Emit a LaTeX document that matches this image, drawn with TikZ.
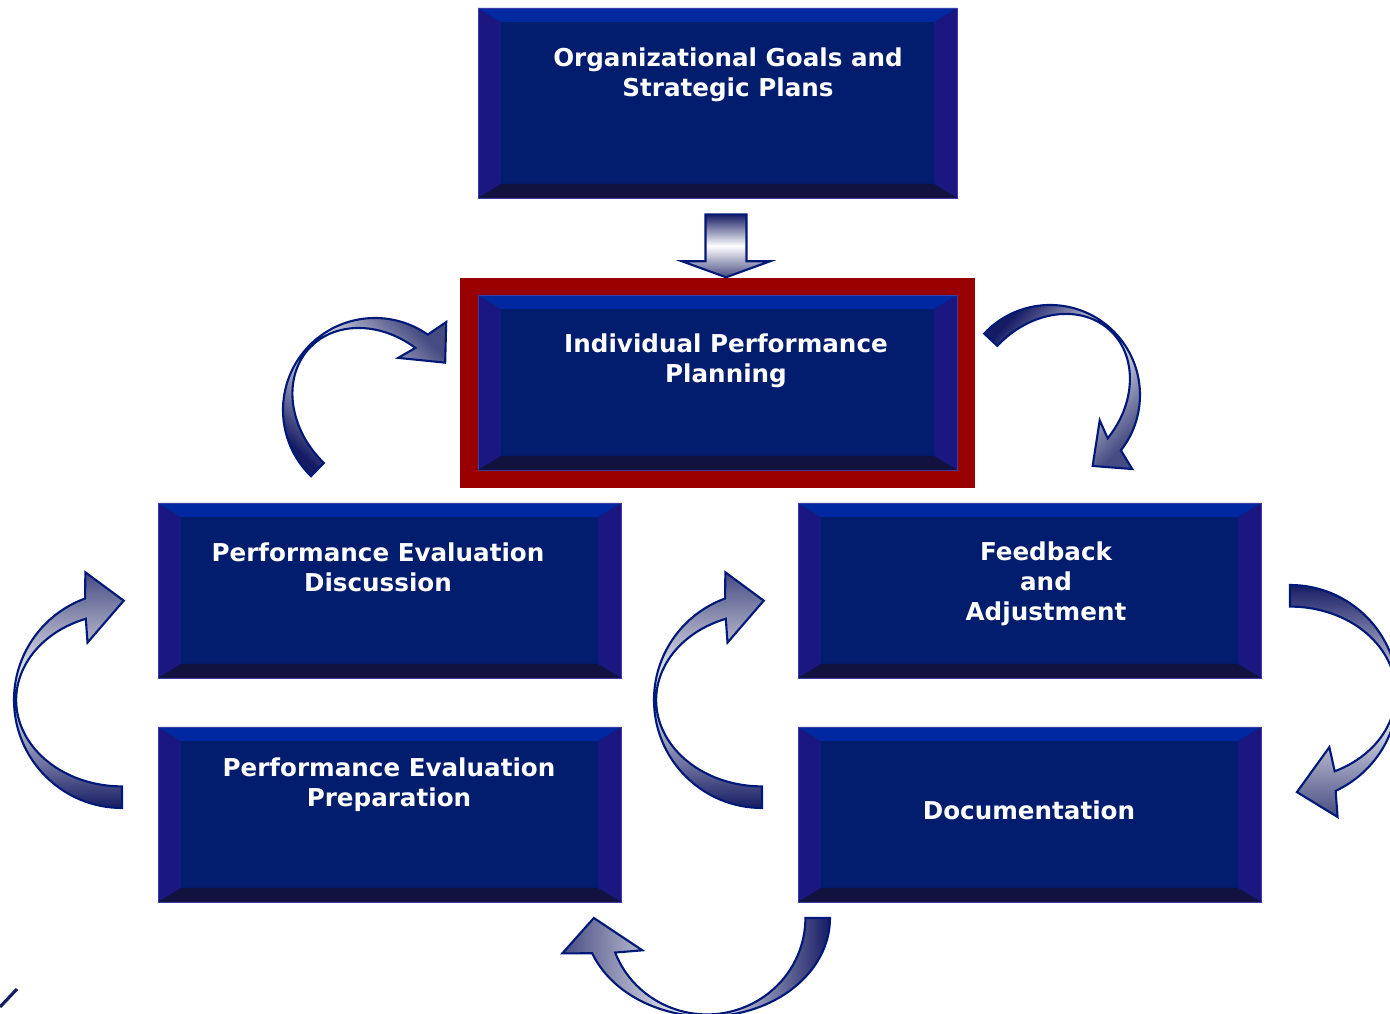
\documentclass[tikz,border=0pt]{standalone}
\usepackage{fontspec}
\newfontfamily\labelfont{DejaVu Sans}

\definecolor{boxface}{RGB}{2,28,110}
\definecolor{boxtop}{RGB}{0,40,160}
\definecolor{boxside}{RGB}{26,24,128}
\definecolor{boxbottom}{RGB}{18,18,62}
\definecolor{boxedge}{RGB}{60,60,165}
\definecolor{framered}{RGB}{153,0,0}
\definecolor{arrowline}{RGB}{0,25,120}
\definecolor{arrowtail}{RGB}{22,28,100}
\definecolor{arrowhead}{RGB}{70,76,130}

% bevelled edges of a box, drawn inside its path picture
\newcommand{\bevel}{%
  \coordinate (nw) at (path picture bounding box.north west);
  \coordinate (ne) at (path picture bounding box.north east);
  \coordinate (sw) at (path picture bounding box.south west);
  \coordinate (se) at (path picture bounding box.south east);
  \fill[boxside] (nw) -- ([shift={(.23,-.14)}]nw) -- ([shift={(.23,.14)}]sw) -- (sw) -- cycle;
  \fill[boxside] (ne) -- ([shift={(-.23,-.14)}]ne) -- ([shift={(-.23,.14)}]se) -- (se) -- cycle;
  \fill[boxtop] (nw) -- ([shift={(.23,-.14)}]nw) -- ([shift={(-.23,-.14)}]ne) -- (ne) -- cycle;
  \fill[boxbottom] (sw) -- ([shift={(.23,.14)}]sw) -- ([shift={(-.23,.14)}]se) -- (se) -- cycle;}

% curved ribbon arrow: centre x, centre y, radius, turn, end angle, y scale
\newcommand{\bendarrow}[6]{%
  \begin{scope}[shift={(#1,#2)},yscale=#6,rotate=#4]
    \path[bend arrow,shading angle=#4] (270:#3)
      arc[start angle=270,end angle=#5,radius=#3]
      -- ({#5-4}:{1.23*#3}) -- ({#5-21}:{0.92*#3}) -- ({#5+11}:{0.62*#3})
      -- ({#5}:{0.98*#3} and {0.8*#3})
      arc[start angle=#5,end angle=270,x radius={0.98*#3},y radius={0.8*#3}]
      -- cycle;
  \end{scope}}

\begin{document}
\begin{tikzpicture}
  [box/.style={fill=boxface,draw=boxedge,line width=0.2pt,inner sep=0pt,
     minimum width=4.63cm,minimum height=1.75cm,path picture={\bevel}},
   txt/.style={text=white,align=center,font=\labelfont\bfseries\fontsize{7}{8.5}\selectfont},
   bend arrow/.style={draw=arrowline,line width=0.6pt,
     top color=arrowhead,bottom color=arrowtail,middle color=white},
   down arrow/.style={draw=arrowline,line width=0.6pt,
     top color=arrowtail,bottom color=arrowhead,middle color=white}]
  \useasboundingbox (0,0) rectangle (13.9,-10.14);
  \clip (0,0) rectangle (13.9,-10.14);

  \node[box,minimum width=4.79cm,minimum height=1.9cm] (goalsbox) at (7.175,-1.03) {};
  \node[fill=framered,minimum width=5.15cm,minimum height=2.1cm] (planframe) at (7.175,-3.83) {};
  \node[box,minimum width=4.79cm] (planbox) at (7.175,-3.825) {};
  \node[box] (discbox) at (3.895,-5.905) {};
  \node[box] (feedbox) at (10.295,-5.905) {};
  \node[box] (prepbox) at (3.895,-8.145) {};
  \node[box] (docbox) at (10.295,-8.145) {};

  \node[txt] (goals) at (7.28,-0.75) {Organizational Goals and\\Strategic Plans};
  \node[txt] (plan) at (7.26,-3.61) {Individual Performance\\Planning};
  \node[txt] (disc) at (3.78,-5.67) {Performance Evaluation\\Discussion};
  \node[txt] (feed) at (10.46,-5.84) {Feedback\\and\\Adjustment};
  \node[txt] (prep) at (3.89,-7.85) {Performance Evaluation\\Preparation};
  \node[txt] (doc) at (10.29,-8.10) {Documentation};

  % block arrow from the goals down to the planning
  \coordinate (dtop) at ([xshift=0.085cm,yshift=-0.16cm]goalsbox.south);
  \coordinate (dtip) at ([xshift=0.085cm]planframe.north);
  \path[down arrow] ([xshift=-0.205cm]dtop) -- ([xshift=0.205cm]dtop)
    -- ([xshift=0.205cm,yshift=0.16cm]dtip) -- ([xshift=0.44cm,yshift=0.16cm]dtip)
    -- (dtip) -- ([xshift=-0.44cm,yshift=0.16cm]dtip)
    -- ([xshift=-0.205cm,yshift=0.16cm]dtip) -- cycle;

  % the cycle of curved arrows
  \foreach \x/\y/\r/\a/\e/\s in {3.75/-4.10/0.92/-44/99/1,
      10.50/-3.95/0.90/-133/95/1, 12.90/-6.93/1.08/180/115/1,
      7.07/-9.18/1.23/90/111/0.8, 7.62/-7.00/1.08/0/110/1,
      1.22/-7.00/1.08/0/110/1}
    \bendarrow{\x}{\y}{\r}{\a}{\e}{\s};

  \draw[line width=0.9pt,arrowtail] (0,-10.07) -- (0.17,-9.89);
\end{tikzpicture}
\end{document}
